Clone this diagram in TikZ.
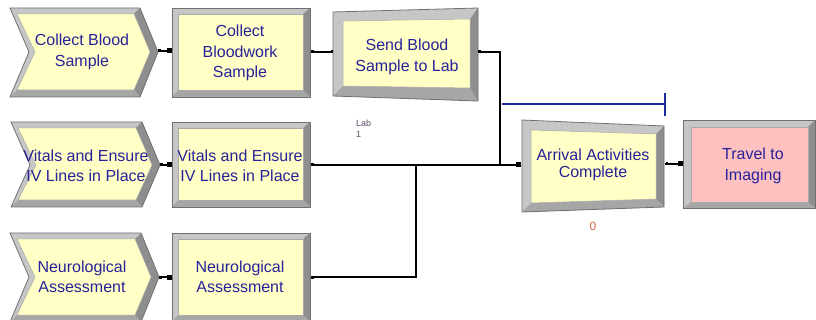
\documentclass[tikz,border=0pt]{standalone}
\usepackage{fontspec}
\setmainfont{Liberation Sans}

\definecolor{modfill}{HTML}{FFFFC6}
\definecolor{pinkfill}{HTML}{FFC0C0}
\definecolor{bevlight}{HTML}{C6C6C6}
\definecolor{bevmid}{HTML}{A6A6A6}
\definecolor{bevdark}{HTML}{8E8E8E}
\definecolor{edgegray}{HTML}{707070}
\definecolor{labelblue}{HTML}{28229A}
\definecolor{linkblue}{HTML}{1C2A9C}
\definecolor{countred}{HTML}{D26A4A}
\definecolor{reslabel}{HTML}{5A4868}

\tikzset{
  modtext/.style={text=labelblue, font=\fontsize{16}{20.5}\selectfont, align=center, inner sep=0pt},
  link/.style={black, line width=1.1pt},
  entrysq/.style={fill=black, minimum width=4.5pt, minimum height=5pt, inner sep=0pt},
  exitdot/.style={fill=black, minimum width=2.5pt, minimum height=3pt, inner sep=0pt},
}

% bevelled four-sided module: outer TL TR BR BL, inner TL TR BR BL, face colour
\newcommand\bevelquad[9]{%
  \fill[bevlight] (#1)--(#2)--(#3)--(#4)--cycle;
  \fill[bevdark] (#2)--(#3)--(#7)--(#6)--cycle;
  \fill[bevmid] (#3)--(#4)--(#8)--(#7)--cycle;
  \fill[#9] (#5)--(#6)--(#7)--(#8)--cycle;
  \draw[edgegray, line width=0.8pt] (#1)--(#2)--(#3)--(#4)--cycle;
  \draw[edgegray!60, line width=0.5pt] (#5)--(#6)--(#7)--(#8)--cycle;
}

% bevelled chevron: outer TL TR tip BR BL notch, then the matching inner points as one list
\newcommand\bevelchevron[7]{%
  \def\oA{#1}\def\oB{#2}\def\oC{#3}\def\oD{#4}\def\oE{#5}\def\oF{#6}%
  \chevroninner#7\relax}
\def\chevroninner#1;#2;#3;#4;#5;#6\relax{%
  \fill[bevlight] (\oA)--(\oB)--(\oC)--(\oD)--(\oE)--(\oF)--cycle;
  \fill[bevdark] (\oB)--(\oC)--(\oD)--(#4)--(#3)--(#2)--cycle;
  \fill[bevmid] (\oD)--(\oE)--(#5)--(#4)--cycle;
  \fill[modfill] (#1)--(#2)--(#3)--(#4)--(#5)--(#6)--cycle;
  \draw[edgegray, line width=0.8pt] (\oA)--(\oB)--(\oC)--(\oD)--(\oE)--(\oF)--cycle;
  \draw[edgegray!60, line width=0.5pt] (#1)--(#2)--(#3)--(#4)--(#5)--(#6)--cycle;
}

\begin{document}
\begin{tikzpicture}[x=1pt, y=-1pt]
\useasboundingbox (0,0) rectangle (816,320);

% ---------- left column: chevron modules ----------
\bevelchevron{10,8}{140,8}{158,52}{140,97}{10,97}{29,52}{17,14;134,14;150,52;134,90;17,90;35,52}
\bevelchevron{11,122}{142,122}{160,165}{142,207}{11,207}{30,165}{18,128;136,128;152,165;136,200;18,200;36,165}
\bevelchevron{10,233}{141,233}{159,277}{141,322}{10,322}{29,277}{17,239;135,239;151,277;135,315;17,315;35,277}

% ---------- second column: process modules ----------
\bevelquad{172,8}{310,8}{310,97}{172,97}{178,14}{303,14}{303,90}{178,90}{modfill}
\bevelquad{172,122}{310,122}{310,207}{172,207}{178,128}{303,128}{303,200}{178,200}{modfill}
\bevelquad{172,233}{310,233}{310,322}{172,322}{178,239}{303,239}{303,315}{178,315}{modfill}

% ---------- send, batch and route modules ----------
\bevelquad{333,12}{478,8}{478,101}{333,96}{343,21}{470,19}{470,88}{343,86}{modfill}
\bevelquad{522,120}{664,126}{664,207}{522,212}{531,130}{656,134}{656,199}{531,203}{modfill}
\bevelquad{683,120}{815,120}{815,208}{683,208}{691,127}{808,127}{808,202}{691,202}{pinkfill}

% ---------- module labels ----------
\node[modtext] (cbs)  at (82,52)  {Collect Blood\\Sample};
\node[modtext] (cbw)  at (240,53) {Collect\\Bloodwork\\Sample};
\node[modtext] (vit1) at (86,166) {Vitals and Ensure\\IV Lines in Place};
\node[modtext] (vit2) at (240,166) {Vitals and Ensure\\IV Lines in Place};
\node[modtext] (neu1) at (82,277) {Neurological\\Assessment};
\node[modtext] (neu2) at (240,277) {Neurological\\Assessment};
\node[modtext] (send) at (407,57) {Send Blood\\Sample to Lab};
\node[modtext, font=\fontsize{16}{16.5}\selectfont] (arr) at (593,165) {Arrival Activities\\Complete};
\node[modtext] (trav) at (753,166) {Travel to\\Imaging};

% ---------- small annotations ----------
\node[text=reslabel, font=\fontsize{9}{11}\selectfont, align=left, inner sep=0pt, anchor=north west] (lab) at (356,120) {Lab\\1};
\node[text=countred, font=\fontsize{12}{12}\selectfont, inner sep=0pt] (cnt) at (593,226) {0};

% ---------- ports ----------
\coordinate (cbs-out)  at (158,51);
\coordinate (cbw-in)   at (172,51);
\coordinate (cbw-out)  at (311,52);
\coordinate (send-in)  at (333,52);
\coordinate (send-out) at (478,52);
\coordinate (vit1-out) at (160,165);
\coordinate (vit2-in)  at (172,165);
\coordinate (vit2-out) at (311,165);
\coordinate (neu1-out) at (159,277);
\coordinate (neu2-in)  at (172,277);
\coordinate (neu2-out) at (311,277);
\coordinate (arr-in)   at (521,165);
\coordinate (arr-out)  at (665,164);
\coordinate (trav-in)  at (683,164);
\coordinate (bendA)    at (500,52);
\coordinate (joinA)    at (500,165);
\coordinate (bendB)    at (416,277);
\coordinate (joinB)    at (416,165);

% ---------- connectors ----------
\draw[link] (cbs-out) -- (cbw-in);
\draw[link] (vit1-out) -- (vit2-in);
\draw[link] (neu1-out) -- (neu2-in);
\draw[link] (cbw-out) -- (send-in);
\draw[link] (send-out) -- (bendA) -- (joinA);
\draw[link] (vit2-out) -- (arr-in);
\draw[link] (neu2-out) -- (bendB) -- (joinB);
\draw[link] (arr-out) -- (trav-in);

% entry and exit markers
\node[entrysq] (m1) at ([xshift=-2.5pt]cbw-in) {};
\node[entrysq] (m2) at ([xshift=-2.5pt]vit2-in) {};
\node[entrysq] (m3) at ([xshift=-2.5pt]neu2-in) {};
\node[entrysq] (m4) at ([xshift=-2.5pt]arr-in) {};
\node[entrysq] (m5) at ([xshift=-2.5pt]trav-in) {};
\node[exitdot] (d1) at ([xshift=1.5pt]cbs-out) {};
\node[exitdot] (d2) at ([xshift=1.5pt]vit1-out) {};
\node[exitdot] (d3) at ([xshift=1.5pt]neu1-out) {};
\node[exitdot] (d4) at ([xshift=1.5pt]cbw-out) {};
\node[exitdot] (d5) at ([xshift=1.5pt]send-out) {};
\node[exitdot] (d6) at ([xshift=1.5pt]vit2-out) {};
\node[exitdot] (d7) at ([xshift=1.5pt]neu2-out) {};
\node[exitdot] (d8) at ([xshift=2pt]arr-out) {};
\node[exitdot] (d9) at ([xshift=-1pt]send-in) {};

% ---------- signal line above the batch module ----------
\coordinate (sigL) at (502,104);
\coordinate (sigR) at (665,104);
\draw[linkblue, line width=1.3pt] (sigL) -- (sigR);
\draw[linkblue, line width=1.3pt] ([yshift=-12pt]sigR) -- ([yshift=11pt]sigR);
\end{tikzpicture}
\end{document}
